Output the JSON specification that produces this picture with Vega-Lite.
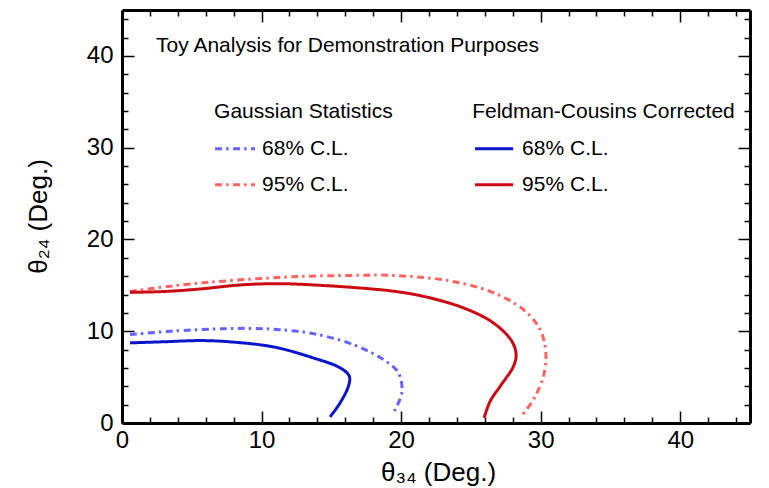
{
  "$schema": "https://vega.github.io/schema/vega-lite/v6.json",
  "width": 628,
  "height": 413,
  "autosize": "none",
  "padding": {"left": 122, "top": 10, "right": 19, "bottom": 65},
  "background": "white",
  "config": {
    "view": {"stroke": null},
    "font": "Liberation Sans",
    "axis": {
      "grid": false,
      "domainColor": "black",
      "tickColor": "black",
      "labelColor": "black",
      "titleColor": "black",
      "labelFont": "Liberation Sans",
      "titleFont": "Liberation Sans",
      "titleFontWeight": "normal"
    }
  },
  "datasets": {
    "curves": [
      {"series": "G68", "part": "curve", "order": 1, "x": 0.57, "y": 9.63},
      {"series": "G68", "part": "curve", "order": 2, "x": 3.5, "y": 10.0},
      {"series": "G68", "part": "curve", "order": 3, "x": 7.51, "y": 10.28},
      {"series": "G68", "part": "curve", "order": 4, "x": 9.5, "y": 10.3},
      {"series": "G68", "part": "curve", "order": 5, "x": 11.33, "y": 10.17},
      {"series": "G68", "part": "curve", "order": 6, "x": 13.71, "y": 9.74},
      {"series": "G68", "part": "curve", "order": 7, "x": 16.58, "y": 8.54},
      {"series": "G68", "part": "curve", "order": 8, "x": 18.73, "y": 6.91},
      {"series": "G68", "part": "curve", "order": 9, "x": 19.81, "y": 5.46},
      {"series": "G68", "part": "curve", "order": 10, "x": 20.05, "y": 3.29},
      {"series": "G68", "part": "curve", "order": 11, "x": 19.45, "y": 1.11},

      {"series": "FC68", "part": "curve", "order": 1, "x": 0.57, "y": 8.73},
      {"series": "FC68", "part": "curve", "order": 2, "x": 3.0, "y": 8.85},
      {"series": "FC68", "part": "curve", "order": 3, "x": 5.59, "y": 8.98},
      {"series": "FC68", "part": "curve", "order": 4, "x": 7.51, "y": 8.87},
      {"series": "FC68", "part": "curve", "order": 5, "x": 10.85, "y": 8.29},
      {"series": "FC68", "part": "curve", "order": 6, "x": 13.71, "y": 7.09},
      {"series": "FC68", "part": "curve", "order": 7, "x": 15.63, "y": 6.01},
      {"series": "FC68", "part": "curve", "order": 8, "x": 16.29, "y": 5.09},
      {"series": "FC68", "part": "curve", "order": 9, "x": 16.22, "y": 4.0},
      {"series": "FC68", "part": "curve", "order": 10, "x": 15.63, "y": 2.2},
      {"series": "FC68", "part": "curve", "order": 11, "x": 14.91, "y": 0.67},

      {"series": "G95", "part": "curve", "order": 1, "x": 0.57, "y": 14.34},
      {"series": "G95", "part": "curve", "order": 2, "x": 4.39, "y": 15.07},
      {"series": "G95", "part": "curve", "order": 3, "x": 7.98, "y": 15.54},
      {"series": "G95", "part": "curve", "order": 4, "x": 12.76, "y": 15.97},
      {"series": "G95", "part": "curve", "order": 5, "x": 17.54, "y": 16.1},
      {"series": "G95", "part": "curve", "order": 6, "x": 18.49, "y": 16.12},
      {"series": "G95", "part": "curve", "order": 7, "x": 20.8, "y": 15.95},
      {"series": "G95", "part": "curve", "order": 8, "x": 23.28, "y": 15.54},
      {"series": "G95", "part": "curve", "order": 9, "x": 26.38, "y": 14.34},
      {"series": "G95", "part": "curve", "order": 10, "x": 28.77, "y": 12.35},
      {"series": "G95", "part": "curve", "order": 11, "x": 29.96, "y": 10.17},
      {"series": "G95", "part": "curve", "order": 12, "x": 30.37, "y": 7.64},
      {"series": "G95", "part": "curve", "order": 13, "x": 30.2, "y": 5.09},
      {"series": "G95", "part": "curve", "order": 14, "x": 29.48, "y": 2.56},
      {"series": "G95", "part": "curve", "order": 15, "x": 28.53, "y": 0.57},

      {"series": "FC95", "part": "curve", "order": 1, "x": 0.57, "y": 14.23},
      {"series": "FC95", "part": "curve", "order": 2, "x": 3.2, "y": 14.34},
      {"series": "FC95", "part": "curve", "order": 3, "x": 5.59, "y": 14.6},
      {"series": "FC95", "part": "curve", "order": 4, "x": 8.46, "y": 15.04},
      {"series": "FC95", "part": "curve", "order": 5, "x": 11.33, "y": 15.18},
      {"series": "FC95", "part": "curve", "order": 6, "x": 14.67, "y": 14.96},
      {"series": "FC95", "part": "curve", "order": 7, "x": 17.54, "y": 14.65},
      {"series": "FC95", "part": "curve", "order": 8, "x": 19.5, "y": 14.35},
      {"series": "FC95", "part": "curve", "order": 9, "x": 21.6, "y": 13.8},
      {"series": "FC95", "part": "curve", "order": 10, "x": 24.47, "y": 12.54},
      {"series": "FC95", "part": "curve", "order": 11, "x": 26.62, "y": 10.9},
      {"series": "FC95", "part": "curve", "order": 12, "x": 27.94, "y": 8.9},
      {"series": "FC95", "part": "curve", "order": 13, "x": 28.24, "y": 7.45},
      {"series": "FC95", "part": "curve", "order": 14, "x": 28.05, "y": 6.18},
      {"series": "FC95", "part": "curve", "order": 15, "x": 27.1, "y": 4.0},
      {"series": "FC95", "part": "curve", "order": 16, "x": 26.38, "y": 2.37},
      {"series": "FC95", "part": "curve", "order": 17, "x": 25.95, "y": 0.57},

      {"series": "G68", "part": "key", "order": 1, "x": 6.67, "y": 29.87},
      {"series": "G68", "part": "key", "order": 2, "x": 9.53, "y": 29.87},
      {"series": "G95", "part": "key", "order": 1, "x": 6.67, "y": 25.95},
      {"series": "G95", "part": "key", "order": 2, "x": 9.53, "y": 25.95},
      {"series": "FC68", "part": "key", "order": 1, "x": 25.3, "y": 29.87},
      {"series": "FC68", "part": "key", "order": 2, "x": 28.03, "y": 29.87},
      {"series": "FC95", "part": "key", "order": 1, "x": 25.3, "y": 25.95},
      {"series": "FC95", "part": "key", "order": 2, "x": 28.03, "y": 25.95}
    ],
    "headers": [
      {"text": "Toy Analysis for Demonstration Purposes", "x": 2.44, "y": 41.1},
      {"text": "Gaussian Statistics", "x": 6.6, "y": 33.9},
      {"text": "Feldman-Cousins Corrected", "x": 25.09, "y": 33.9}
    ],
    "items": [
      {"text": "68% C.L.", "x": 10.04, "y": 29.87},
      {"text": "95% C.L.", "x": 10.04, "y": 25.95},
      {"text": "68% C.L.", "x": 28.67, "y": 29.87},
      {"text": "95% C.L.", "x": 28.67, "y": 25.95}
    ]
  },
  "resolve": {"axis": {"x": "independent", "y": "independent"}},
  "layer": [
    {
      "data": {"name": "curves"},
      "mark": {"type": "line", "strokeWidth": 3, "clip": false, "interpolate": "catmull-rom"},
      "encoding": {
        "x": {
          "field": "x", "type": "quantitative",
          "scale": {"domain": [0, 45], "nice": false, "zero": false},
          "axis": {
            "orient": "bottom", "values": [0, 10, 20, 30, 40], "ticks": false,
            "domain": true, "domainWidth": 3,
            "labelFontSize": 24, "labelPadding": 5, "labelFlush": false, "labelOverlap": false,
            "title": "θ₃₄ (Deg.)", "titleFontSize": 26, "titleX": 316, "titleY": 49,
            "titleBaseline": "middle", "titleAlign": "center"
          }
        },
        "y": {
          "field": "y", "type": "quantitative",
          "scale": {"domain": [0, 45], "nice": false, "zero": false},
          "axis": {
            "orient": "left", "values": [0, 10, 20, 30, 40], "ticks": false,
            "domain": true, "domainWidth": 3,
            "labelFontSize": 24, "labelPadding": 9, "labelFlush": false, "labelOverlap": false,
            "title": "θ₂₄ (Deg.)", "titleFontSize": 26, "titleX": -84, "titleY": 206,
            "titleAngle": -90, "titleBaseline": "middle", "titleAlign": "center"
          }
        },
        "color": {
          "field": "series", "type": "nominal",
          "scale": {"domain": ["G68", "G95", "FC68", "FC95"], "range": ["#6262ff", "#ff6262", "#0a14c8", "#cc0a14"]},
          "legend": null
        },
        "strokeDash": {
          "field": "series", "type": "nominal",
          "scale": {"domain": ["G68", "G95", "FC68", "FC95"], "range": [[7, 4, 2.5, 4.5], [7, 4, 2.5, 4.5], [1, 0], [1, 0]]},
          "legend": null
        },
        "detail": {"field": "part"},
        "order": {"field": "order", "type": "quantitative"}
      }
    },
    {
      "data": {"name": "headers"},
      "mark": {"type": "text", "align": "left", "baseline": "middle", "fontSize": 21, "font": "Liberation Sans", "color": "black"},
      "encoding": {
        "x": {
          "field": "x", "type": "quantitative",
          "scale": {"domain": [0, 45], "nice": false, "zero": false},
          "axis": {
            "orient": "bottom", "values": [0, 2, 4, 6, 8, 10, 12, 14, 16, 18, 20, 22, 24, 26, 28, 30, 32, 34, 36, 38, 40, 42, 44],
            "labels": false, "domain": false, "title": null, "tickWidth": 1.5,
            "tickSize": {"condition": {"test": "datum.value % 10 === 0", "value": -12}, "value": -6}
          }
        },
        "y": {
          "field": "y", "type": "quantitative",
          "scale": {"domain": [0, 45], "nice": false, "zero": false},
          "axis": {
            "orient": "left", "values": [0, 2, 4, 6, 8, 10, 12, 14, 16, 18, 20, 22, 24, 26, 28, 30, 32, 34, 36, 38, 40, 42, 44],
            "labels": false, "domain": false, "title": null, "tickWidth": 1.5,
            "tickSize": {"condition": {"test": "datum.value % 10 === 0", "value": -12}, "value": -6}
          }
        },
        "text": {"field": "text"}
      }
    },
    {
      "data": {"name": "items"},
      "mark": {"type": "text", "align": "left", "baseline": "middle", "fontSize": 21, "font": "Liberation Sans", "color": "black"},
      "encoding": {
        "x": {
          "field": "x", "type": "quantitative",
          "scale": {"domain": [0, 45], "nice": false, "zero": false},
          "axis": {
            "orient": "top", "values": [0, 2, 4, 6, 8, 10, 12, 14, 16, 18, 20, 22, 24, 26, 28, 30, 32, 34, 36, 38, 40, 42, 44],
            "labels": false, "domain": true, "domainWidth": 3, "title": null, "tickWidth": 1.5,
            "tickSize": {"condition": {"test": "datum.value % 10 === 0", "value": -12}, "value": -6}
          }
        },
        "y": {
          "field": "y", "type": "quantitative",
          "scale": {"domain": [0, 45], "nice": false, "zero": false},
          "axis": {
            "orient": "right", "values": [0, 2, 4, 6, 8, 10, 12, 14, 16, 18, 20, 22, 24, 26, 28, 30, 32, 34, 36, 38, 40, 42, 44],
            "labels": false, "domain": true, "domainWidth": 3, "title": null, "tickWidth": 1.5,
            "tickSize": {"condition": {"test": "datum.value % 10 === 0", "value": -12}, "value": -6}
          }
        },
        "text": {"field": "text"}
      }
    }
  ]
}
